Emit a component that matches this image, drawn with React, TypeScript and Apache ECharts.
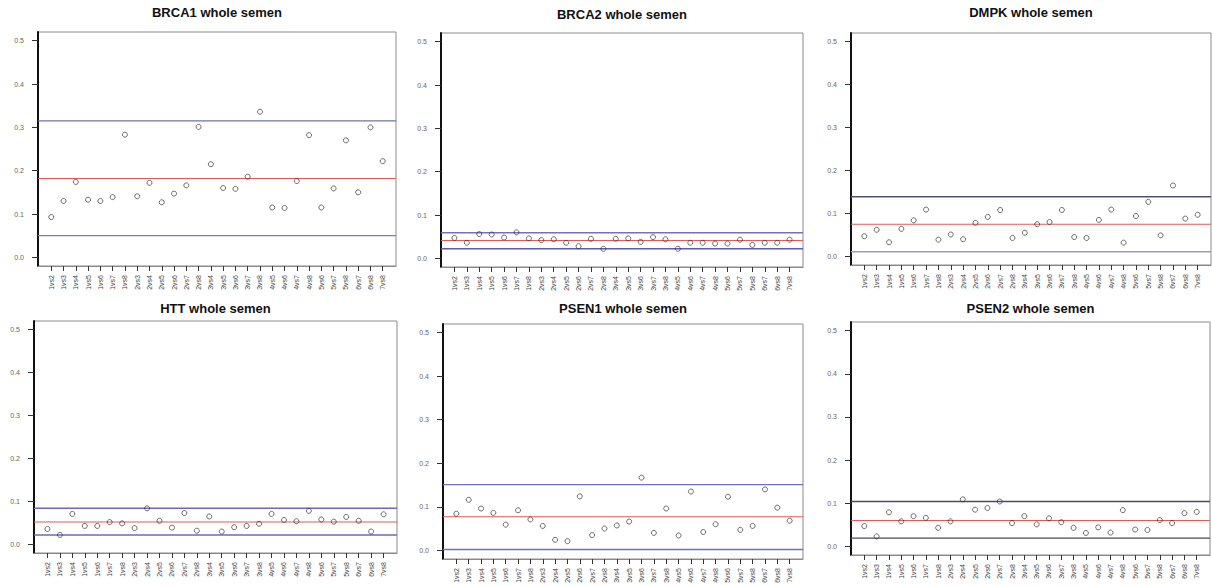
import React, { useEffect, useLayoutEffect, useRef } from "react";
import * as echarts from "echarts";

const categories = [
  "1vs2", "1vs3", "1vs4", "1vs5", "1vs6", "1vs7", "1vs8",
  "2vs3", "2vs4", "2vs5", "2vs6", "2vs7", "2vs8",
  "3vs4", "3vs5", "3vs6", "3vs7", "3vs8",
  "4vs5", "4vs6", "4vs7", "4vs8",
  "5vs6", "5vs7", "5vs8",
  "6vs7", "6vs8",
  "7vs8",
];

const titles = [
  "BRCA1 whole semen",
  "BRCA2 whole semen",
  "DMPK whole semen",
  "HTT whole semen",
  "PSEN1 whole semen",
  "PSEN2 whole semen",
];

const brca1 = [0.093, 0.130, 0.174, 0.133, 0.130, 0.139, 0.283, 0.141, 0.172, 0.127, 0.147, 0.166, 0.301, 0.215, 0.160, 0.158, 0.186, 0.336, 0.115, 0.114, 0.176, 0.282, 0.115, 0.159, 0.270, 0.150, 0.300, 0.222];
const brca2 = [0.047, 0.036, 0.056, 0.055, 0.048, 0.060, 0.046, 0.042, 0.044, 0.036, 0.028, 0.045, 0.022, 0.045, 0.046, 0.038, 0.049, 0.044, 0.022, 0.036, 0.036, 0.034, 0.034, 0.043, 0.031, 0.036, 0.036, 0.043];
const dmpk = [0.047, 0.062, 0.033, 0.064, 0.084, 0.109, 0.039, 0.051, 0.040, 0.078, 0.092, 0.108, 0.043, 0.055, 0.075, 0.080, 0.108, 0.045, 0.043, 0.085, 0.109, 0.032, 0.094, 0.127, 0.049, 0.165, 0.088, 0.097];
const htt = [0.036, 0.022, 0.071, 0.043, 0.043, 0.052, 0.049, 0.038, 0.084, 0.055, 0.039, 0.073, 0.032, 0.065, 0.030, 0.040, 0.043, 0.048, 0.071, 0.057, 0.054, 0.078, 0.058, 0.053, 0.064, 0.055, 0.030, 0.070];
const psen1 = [0.084, 0.116, 0.096, 0.086, 0.059, 0.092, 0.071, 0.056, 0.024, 0.021, 0.124, 0.035, 0.050, 0.057, 0.066, 0.167, 0.040, 0.096, 0.034, 0.135, 0.042, 0.060, 0.123, 0.047, 0.056, 0.140, 0.098, 0.068];
const psen2 = [0.047, 0.023, 0.079, 0.058, 0.070, 0.066, 0.043, 0.058, 0.109, 0.085, 0.089, 0.104, 0.054, 0.070, 0.051, 0.065, 0.056, 0.043, 0.031, 0.044, 0.032, 0.084, 0.039, 0.038, 0.061, 0.054, 0.077, 0.080];

const upperLimits = [0.315, 0.059, 0.139, 0.084, 0.151, 0.104];
const means = [0.182, 0.041, 0.075, 0.052, 0.077, 0.060];
const lowerLimits = [0.050, 0.022, 0.011, 0.022, 0.002, 0.019];

const yTicks = [0, 0.1, 0.2, 0.3, 0.4, 0.5];

const seriesValues = [brca1, brca2, dmpk, htt, psen1, psen2];

// panel boxes (pixels)
const layouts = [
  { left: 38, top: 32, width: 358, height: 234, titleTop: 6 },
  { left: 441, top: 33, width: 362, height: 234, titleTop: 8 },
  { left: 851, top: 33, width: 360, height: 232, titleTop: 6 },
  { left: 34, top: 321, width: 363, height: 232, titleTop: 302 },
  { left: 443, top: 324, width: 360, height: 235, titleTop: 302 },
  { left: 851, top: 322, width: 359, height: 233, titleTop: 302 },
];

const upperColors = ["#6f6fb8", "#7070c4", "#505070", "#6a6ab8", "#7070c0", "#4a4a66"];
const lowerColors = ["#7b7bc4", "#5a5ab8", "#9a9ad0", "#6a6ab8", "#7070c0", "#4a4a66"];
const meanColor = "#e05a5a";

const X_MIN = 1 - 27 * 0.04;
const X_MAX = 28 + 27 * 0.04;

export default function App() {
  const ref = useRef<HTMLDivElement>(null);

  useLayoutEffect(() => {
    document.documentElement.style.margin = "0";
    document.documentElement.style.padding = "0";
    document.body.style.margin = "0";
    document.body.style.padding = "0";
    document.body.style.overflow = "hidden";
  }, []);

  useEffect(() => {
    if (!ref.current) return;
    const chart = echarts.init(ref.current, undefined, { renderer: "svg" });
    const xTickValues = categories.map((_, i) => i + 1);

    const hLine = (i: number, value: number, color: string, width: number) => ({
      type: "line",
      xAxisIndex: i,
      yAxisIndex: i,
      silent: true,
      symbol: "none",
      showSymbol: false,
      z: 1,
      lineStyle: { color, width, type: "solid" },
      itemStyle: { color },
      emphasis: { disabled: true },
      data: [
        [X_MIN, value],
        [X_MAX, value],
      ],
    });

    const series: any[] = [];
    seriesValues.forEach((vals, i) => {
      series.push(hLine(i, upperLimits[i], upperColors[i], 1.4));
      series.push(hLine(i, means[i], meanColor, 1.1));
      series.push(hLine(i, lowerLimits[i], lowerColors[i], 1.4));
      series.push({
        type: "scatter",
        name: titles[i],
        xAxisIndex: i,
        yAxisIndex: i,
        symbol: "circle",
        symbolSize: 5,
        z: 3,
        itemStyle: { color: "rgba(255,255,255,0)", borderColor: "#333", borderWidth: 0.9 },
        data: vals.map((v, j) => [j + 1, v]),
      });
    });

    const option: any = {
      animation: false,
      backgroundColor: "#ffffff",
      tooltip: { show: false },
      title: titles.map((t, i) => ({
        text: t,
        left: layouts[i].left + layouts[i].width / 2,
        top: layouts[i].titleTop,
        textAlign: "center",
        padding: 0,
        textStyle: {
          fontFamily: "Liberation Sans, Arial, sans-serif",
          fontWeight: "bold",
          fontSize: 13,
          color: "#111",
        },
      })),
      grid: layouts.map((l) => ({
        left: l.left,
        top: l.top,
        width: l.width,
        height: l.height,
        show: true,
        borderColor: "#8a8a8a",
        borderWidth: 1,
        backgroundColor: "transparent",
        containLabel: false,
        outerBoundsMode: "none",
      })),
      xAxis: layouts.map((_, i) => ({
        type: "value",
        gridIndex: i,
        min: X_MIN,
        max: X_MAX,
        splitLine: { show: false },
        axisLine: { show: true, onZero: false, lineStyle: { color: "#8a8a8a", width: 1 } },
        axisTick: {
          show: true,
          length: 5,
          customValues: xTickValues,
          lineStyle: { color: "#333", width: 1 },
        },
        axisLabel: {
          show: true,
          customValues: xTickValues,
          rotate: 90,
          fontSize: 7,
          margin: 9,
          color: "#444",
          fontFamily: "Liberation Sans, Arial, sans-serif",
          formatter: (v: number) => categories[Math.round(v) - 1] ?? "",
        },
      })),
      yAxis: layouts.map((_, i) => ({
        type: "value",
        gridIndex: i,
        min: -0.02,
        max: 0.52,
        splitLine: { show: false },
        axisLine: { show: true, onZero: false, lineStyle: { color: "#111", width: 2 } },
        axisTick: {
          show: true,
          length: 6,
          customValues: yTicks,
          lineStyle: { color: "#333", width: 1 },
        },
        axisLabel: {
          show: true,
          customValues: yTicks,
          fontSize: 7,
          margin: 14,
          color: "#666",
          fontFamily: "Liberation Sans, Arial, sans-serif",
          formatter: (v: number) => v.toFixed(1),
        },
      })),
      series,
    };

    chart.setOption(option);
    return () => chart.dispose();
  }, []);

  return (
    <div
      ref={ref}
      style={{ position: "relative", width: 1212, height: 586, background: "#fff", overflow: "hidden" }}
    />
  );
}
